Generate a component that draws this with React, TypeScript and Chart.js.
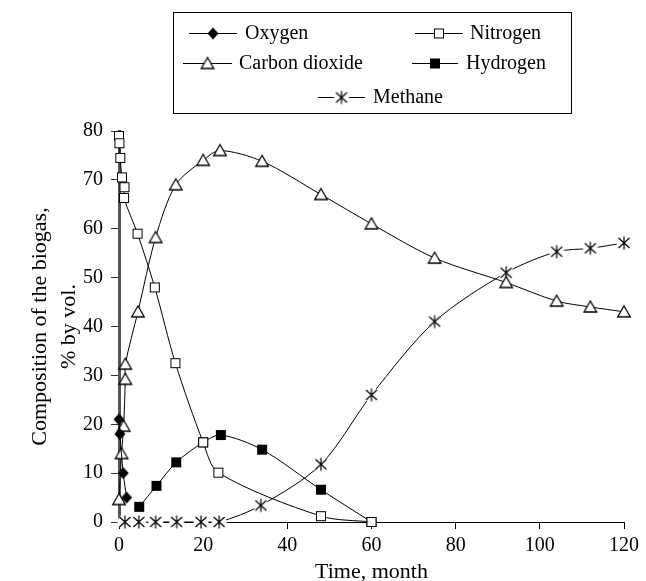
import React, { useEffect, useRef } from 'react';
import { Chart, registerables } from 'chart.js';

Chart.register(...registerables);

const FONT = '"Liberation Serif", "Times New Roman", Times, serif';

// ---- data (months, % by vol.) ----
const oxygenMonths = [0, 0.2, 1, 1.8];
const oxygenPct = [21, 18, 10, 5];

const nitrogenMonths = [0, 0.1, 0.3, 0.7, 1.3, 1.2, 4.4, 8.5, 13.4, 20, 23.6, 48, 60];
const nitrogenPct = [79, 77.5, 74.5, 70.5, 68.5, 66.3, 59, 48, 32.5, 16.3, 10.1, 1.2, 0];

const co2Months = [0, 0.6, 1.1, 1.5, 1.5, 4.5, 8.7, 13.5, 20, 24, 34, 48, 60, 75, 92, 104, 112, 120];
const co2Pct = [4.6, 14, 19.6, 29.2, 32.3, 43, 58.2, 69, 74, 76, 73.8, 67, 61, 54, 49, 45.2, 44, 43];

const hydrogenMonths = [4.8, 8.9, 13.6, 20, 24.2, 34, 48, 60];
const hydrogenPct = [3.1, 7.4, 12.2, 16.3, 17.8, 14.8, 6.6, 0];

const methaneMonths = [1.4, 4.7, 8.7, 13.7, 19.5, 23.8, 33.7, 48, 60, 75, 92, 104, 112, 120];
const methanePct = [0, 0, 0, 0, 0, 0, 3.4, 11.8, 26, 41, 51, 55.3, 56, 57.1];

const seriesLabels = ['Oxygen', 'Nitrogen', 'Carbon dioxide', 'Hydrogen', 'Methane'];
const xTickStep = 20;
const yTickStep = 10;

type Kind = 'diamond' | 'openSquare' | 'triangle' | 'filledSquare' | 'star';

function makeMarker(kind: Kind): HTMLCanvasElement {
  const c = document.createElement('canvas');
  c.width = 18;
  c.height = 18;
  const g = c.getContext('2d')!;
  g.strokeStyle = '#000';
  g.fillStyle = '#000';
  g.lineWidth = 1;
  if (kind === 'diamond') {
    g.beginPath();
    g.moveTo(9, 3);
    g.lineTo(14.5, 9);
    g.lineTo(9, 15);
    g.lineTo(3.5, 9);
    g.closePath();
    g.fill();
  } else if (kind === 'openSquare') {
    g.fillStyle = '#fff';
    g.fillRect(4.5, 4.5, 9, 9);
    g.strokeRect(4.5, 4.5, 9, 9);
  } else if (kind === 'filledSquare') {
    g.fillRect(4, 4, 10, 10);
  } else if (kind === 'triangle') {
    g.lineWidth = 1.3;
    g.fillStyle = '#fff';
    g.beginPath();
    g.moveTo(9, 3);
    g.lineTo(15.3, 14);
    g.lineTo(2.7, 14);
    g.closePath();
    g.fill();
    g.stroke();
  } else {
    g.fillStyle = '#fff';
    g.beginPath();
    g.arc(9, 9, 7.5, 0, Math.PI * 2);
    g.fill();
    g.lineWidth = 1.2;
    g.beginPath();
    g.moveTo(9, 2.5);
    g.lineTo(9, 15.5);
    g.moveTo(3.5, 4);
    g.lineTo(14.5, 14);
    g.moveTo(14.5, 4);
    g.lineTo(3.5, 14);
    g.stroke();
  }
  return c;
}

const toPoints = (xs: number[], ys: number[]) => xs.map((x, i) => ({ x, y: ys[i] }));

const LEGEND_BOX = { x: 173.5, y: 12.5, w: 398, h: 101 };
const LEGEND_LAYOUT = [
  { index: 0, x1: 189, x2: 237, y: 33, tx: 245 },
  { index: 1, x1: 415, x2: 463, y: 33, tx: 470 },
  { index: 2, x1: 183, x2: 232, y: 63, tx: 239 },
  { index: 3, x1: 412, x2: 458, y: 63, tx: 466 },
  { index: 4, x1: 318, x2: 365, y: 97, tx: 373 },
];

const boxLegend = {
  id: 'boxLegend',
  afterDraw(chart: any) {
    const ctx = chart.ctx as CanvasRenderingContext2D;
    ctx.save();
    ctx.strokeStyle = '#000';
    ctx.lineWidth = 1;
    ctx.strokeRect(LEGEND_BOX.x, LEGEND_BOX.y, LEGEND_BOX.w, LEGEND_BOX.h);
    ctx.font = `20px ${FONT}`;
    ctx.textBaseline = 'middle';
    ctx.textAlign = 'left';
    ctx.fillStyle = '#000';
    for (const it of LEGEND_LAYOUT) {
      const ds = chart.data.datasets[it.index];
      ctx.beginPath();
      ctx.moveTo(it.x1, it.y + 0.5);
      ctx.lineTo(it.x2, it.y + 0.5);
      ctx.stroke();
      const img = ds.pointStyle as HTMLCanvasElement;
      const cx = (it.x1 + it.x2) / 2;
      ctx.drawImage(img, cx - img.width / 2, it.y + 0.5 - img.height / 2);
      ctx.fillText(ds.label, it.tx, it.y + 1);
    }
    ctx.restore();
  },
};

export default function App() {
  const ref = useRef<HTMLCanvasElement | null>(null);

  useEffect(() => {
    if (!ref.current) return;
    const kinds: Kind[] = ['diamond', 'openSquare', 'triangle', 'filledSquare', 'star'];
    const sets = [
      toPoints(oxygenMonths, oxygenPct),
      toPoints(nitrogenMonths, nitrogenPct),
      toPoints(co2Months, co2Pct),
      toPoints(hydrogenMonths, hydrogenPct),
      toPoints(methaneMonths, methanePct),
    ];
    const datasets = sets.map((data, i) => ({
      label: seriesLabels[i],
      data,
      borderColor: '#000',
      borderWidth: 1,
      backgroundColor: '#000',
      pointStyle: makeMarker(kinds[i]),
      pointRadius: 6,
      tension: 0.3,
      clip: false as any,
      fill: false,
    }));

    const chart = new Chart(ref.current, {
      type: 'line',
      data: { datasets },
      options: {
        responsive: false,
        animation: false,
        events: [],
        layout: { padding: { top: 131, right: 22, left: 0, bottom: 0 } },
        plugins: { legend: { display: false }, tooltip: { enabled: false } },
        scales: {
          x: {
            type: 'linear',
            min: 0,
            max: 120,
            afterFit: (s: any) => {
              s.height = 59;
            },
            ticks: {
              stepSize: xTickStep,
              color: '#000',
              font: { family: FONT, size: 20 },
              padding: 5,
            },
            grid: { drawOnChartArea: false, drawTicks: true, tickLength: 7, color: '#000' },
            border: { display: true, color: '#000', width: 1 },
            title: {
              display: true,
              text: 'Time, month',
              color: '#000',
              font: { family: FONT, size: 22, lineHeight: 0.8 },
              padding: { top: 0, bottom: 0 },
            },
          },
          y: {
            type: 'linear',
            min: 0,
            max: 80,
            afterFit: (s: any) => {
              s.width = 119;
            },
            ticks: {
              stepSize: yTickStep,
              color: '#000',
              font: { family: FONT, size: 20 },
              padding: 8,
            },
            grid: { drawOnChartArea: false, drawTicks: true, tickLength: 8, color: '#333' },
            border: { display: true, color: '#555', width: 3 },
            title: {
              display: true,
              text: ['Composition of the biogas,', '% by vol.'],
              color: '#000',
              font: { family: FONT, size: 22, lineHeight: 1.3 },
              padding: { top: 26, bottom: 0 },
            },
          },
        },
      },
      plugins: [boxLegend],
    });
    return () => chart.destroy();
  }, []);

  return (
    <div style={{ position: 'absolute', left: 0, top: 0, width: 646, height: 581, background: '#fff' }}>
      <canvas ref={ref} width={646} height={581} style={{ display: 'block' }} />
    </div>
  );
}
